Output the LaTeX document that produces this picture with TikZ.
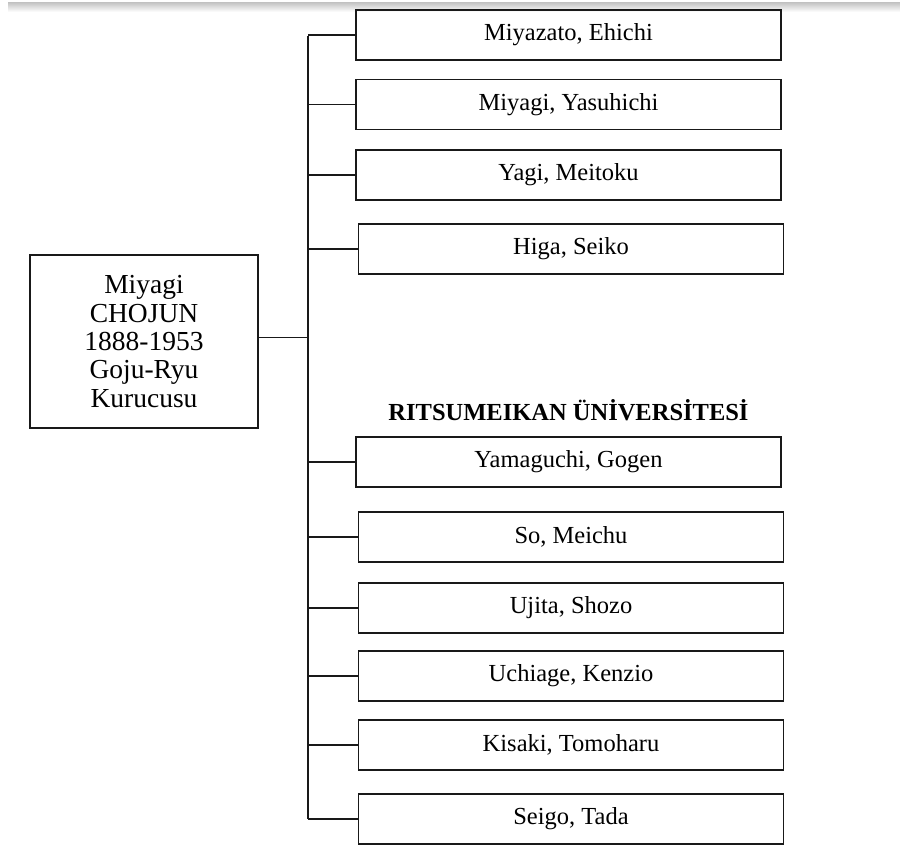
\documentclass[tikz,border=0pt]{standalone}
\usepackage{fontspec}
\setmainfont{Liberation Serif}
\usetikzlibrary{calc}
\tikzset{>=latex}
\definecolor{boxline}{RGB}{25,25,25}
\tikzset{
  namebox/.style={draw=boxline,line width=1.6pt,minimum width=425pt,minimum height=50pt,
    inner sep=0pt,font=\fontsize{24.5}{28.3}\selectfont},
  rootbox/.style={draw=boxline,line width=1.6pt,minimum width=228pt,minimum height=173pt,
    inner sep=0pt,align=center,font=\fontsize{27.5}{28.3}\selectfont},
  linkline/.style={draw=boxline,line width=1.6pt}
}

\begin{document}
\begin{tikzpicture}[x=1pt,y=-1pt]
    \useasboundingbox (0,0) rectangle (900,848);
    \shade[top color=black!22,bottom color=white] (8,3) rectangle (900,12);

    \node[rootbox] (chojun) at (144,341.5) {Miyagi\\CHOJUN\\1888-1953\\Goju-Ryu\\Kurucusu};
    \coordinate (trunktop) at (308,36);
    \coordinate (trunkbot) at (308,819);
    \draw[linkline] (trunktop) -- (trunkbot);
    \draw[linkline] ([yshift=4pt]chojun.east) -- ([yshift=4pt]chojun.east -| trunktop);

    \node[font=\fontsize{24.5}{28.3}\selectfont\bfseries] (ritsu) at (568.5,410) {RITSUMEIKAN ÜNİVERSİTESİ};

    \foreach \nm/\cx/\cy/\txt in {miyazato/568.5/35/{Miyazato, Ehichi},
        yasuhichi/568.5/104.5/{Miyagi, Yasuhichi},
        meitoku/568.5/175/{Yagi, Meitoku},
        seiko/571/249/{Higa, Seiko},
        gogen/568.5/462/{Yamaguchi, Gogen},
        meichu/571/537/{So, Meichu},
        shozo/571/608/{Ujita, Shozo},
        kenzio/571/676/{Uchiage, Kenzio},
        tomoharu/571/745/{Kisaki, Tomoharu},
        tada/571/819/{Seigo, Tada}}{
      \node[namebox] (\nm) at (\cx,\cy) {\txt};
      \draw[linkline] (\nm.west -| trunktop) -- (\nm.west);
    }
  \end{tikzpicture}
\end{document}
